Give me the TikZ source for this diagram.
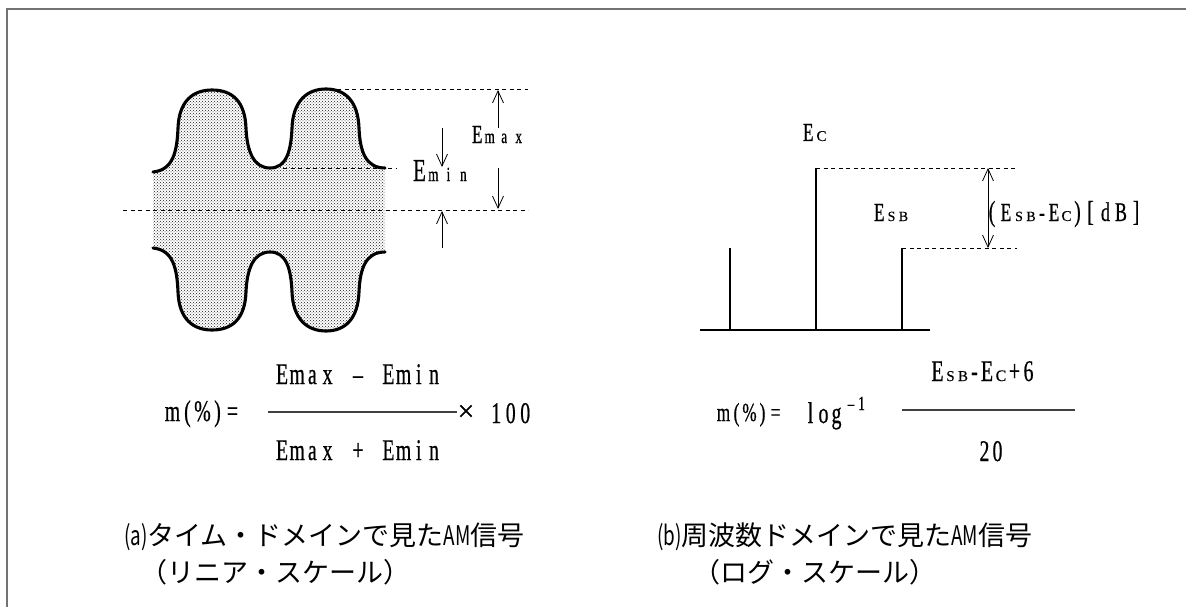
\documentclass[tikz,border=0pt]{standalone}
\usepackage{fontspec}
\usepackage{graphicx}
\usetikzlibrary{arrows.meta,patterns}
\newfontfamily\lat[FakeStretch=0.66,FakeBold=0.6]{Liberation Serif}
\newfontfamily\latn[FakeBold=0.4]{Liberation Serif}
\newfontfamily\jp{Noto Sans CJK JP}
\newcommand\bx[2]{\makebox[#1pt][c]{#2}}
\newcommand\fs[1]{\fontsize{#1}{#1}\selectfont}
\makeatletter
\newlength\monow
\newcommand\mono[2]{\setlength\monow{#1pt}\mono@#2\relax}
\def\mono@#1{\ifx\relax#1\else\makebox[\monow][c]{#1}\expandafter\mono@\fi}
\makeatother
\tikzset{
  env/.style={line width=3.1pt, line cap=round, line join=round},
  dl/.style={line width=0.9pt, dash pattern=on 4pt off 3.5pt},
  bar/.style={line width=2.8pt},
  arr/.style={line width=0.8pt, -{Straight Barb[length=12pt,width=11pt]}},
  darr/.style={line width=0.8pt, {Straight Barb[length=12pt,width=11pt]}-{Straight Barb[length=12pt,width=11pt]}},
  txt/.style={inner sep=0pt, outer sep=0pt, font=\lat\fs{30}},
  captxt/.style={inner sep=0pt, outer sep=0pt, font=\jp\fs{27}},
  frac/.style={line width=1.1pt, black!75},
  frm/.style={line width=1.3pt, black!55},
}
\begin{document}
\begin{tikzpicture}[x=1pt,y=-1pt]
\useasboundingbox (0,0) rectangle (1186,607);
% frame
\coordinate (f0) at (7,9); \coordinate (f1) at (1186,9); \coordinate (f2) at (7,607);
\draw[frm] (f2) -- (f0) -- (f1);

% ---------- (a) time domain ----------
\fill[pattern=crosshatch dots, pattern color=black!90]
 (153,172) .. controls (173,170) and (177,152) .. (178,128)
 .. controls (179,101) and (193,90) .. (212,90)
 .. controls (232,90) and (245,101) .. (246,128)
 .. controls (247,152) and (254,168) .. (270,168)
 .. controls (286,168) and (291,152) .. (292,128)
 .. controls (293,101) and (307,89) .. (326,89)
 .. controls (345,89) and (358,101) .. (359,128)
 .. controls (360,152) and (366,168) .. (385,168)
 -- (385,252)
 .. controls (366,252) and (360,268) .. (359,292)
 .. controls (358,319) and (345,331) .. (326,331)
 .. controls (307,331) and (293,319) .. (292,292)
 .. controls (291,268) and (286,252) .. (270,252)
 .. controls (254,252) and (247,268) .. (246,292)
 .. controls (245,319) and (232,330) .. (212,330)
 .. controls (193,330) and (179,319) .. (178,292)
 .. controls (177,268) and (173,250) .. (153,248) -- cycle;
\draw[env]
 (153,172) .. controls (173,170) and (177,152) .. (178,128)
 .. controls (179,101) and (193,90) .. (212,90)
 .. controls (232,90) and (245,101) .. (246,128)
 .. controls (247,152) and (254,168) .. (270,168)
 .. controls (286,168) and (291,152) .. (292,128)
 .. controls (293,101) and (307,89) .. (326,89)
 .. controls (345,89) and (358,101) .. (359,128)
 .. controls (360,152) and (366,168) .. (385,168);
\draw[env]
 (385,252) .. controls (366,252) and (360,268) .. (359,292)
 .. controls (358,319) and (345,331) .. (326,331)
 .. controls (307,331) and (293,319) .. (292,292)
 .. controls (291,268) and (286,252) .. (270,252)
 .. controls (254,252) and (247,268) .. (246,292)
 .. controls (245,319) and (232,330) .. (212,330)
 .. controls (193,330) and (179,319) .. (178,292)
 .. controls (177,268) and (173,250) .. (153,248);

% dashed reference lines
\coordinate (c0) at (123,210); \coordinate (c1) at (528,210);
\coordinate (t0) at (337,89);  \coordinate (t1) at (528,89);
\coordinate (m0) at (283,168); \coordinate (m1) at (397,168);
\draw[dl] (c0) -- (c1);
\draw[dl] (t0) -- (t1);
\draw[dl] (m0) -- (m1);

% arrows
\coordinate (ax1) at (498,128); \coordinate (ax2) at (498,90);
\coordinate (ax3) at (498,168); \coordinate (ax4) at (498,209);
\coordinate (an1) at (442,128); \coordinate (an2) at (442,167);
\coordinate (an3) at (442,248); \coordinate (an4) at (442,211);
\draw[arr] (ax1) -- (ax2);
\draw[arr] (ax3) -- (ax4);
\draw[arr] (an1) -- (an2);
\draw[arr] (an3) -- (an4);

\node[txt, anchor=base west] (emax) at (472,143) {\fs{26}E\fs{20}\mono{14.5}{max}};
\node[txt, anchor=base west] (emin) at (413,181) {\fs{32}E\fs{20}\mono{15}{min}};

% formula (a)
\node[txt, anchor=base west] (mL) at (165,421) {\mono{15}{m(\%)=}};
\node[txt, anchor=base] (numL) at (358,384) {\mono{15.2}{Emax~–~Emin}};
\node[txt, anchor=base] (denL) at (358,460) {\mono{15.2}{Emax~+~Emin}};
\coordinate (fl0) at (268,412); \coordinate (fl1) at (457,412);
\draw[frac] (fl0) -- (fl1);
\node[txt, font=\latn\fs{30}] (timesL) at (466,413) {×};
\node[txt, anchor=base west] (hundred) at (489,423) {\mono{14.5}{100}};

% captions (a)
\node[captxt, anchor=base west] (capA1) at (124,545) {\scalebox{0.7}[1]{(a)}タイム・ドメインで見た\scalebox{0.7}[1]{AM}信号};
\node[captxt, anchor=base west] (capA2) at (140,582) {（リニア・スケール）};

% ---------- (b) frequency domain ----------
\coordinate (b0) at (700,330); \coordinate (b1) at (930,330);
\coordinate (s1a) at (730,330); \coordinate (s1b) at (730,248);
\coordinate (s2a) at (816,330); \coordinate (s2b) at (816,168);
\coordinate (s3a) at (902,330); \coordinate (s3b) at (902,248);
\draw[bar] (b0) -- (b1);
\draw[bar] (s1a) -- (s1b);
\draw[bar] (s2a) -- (s2b);
\draw[bar] (s3a) -- (s3b);
\coordinate (d1) at (1017,168); \coordinate (d2) at (1017,248);
\draw[dl] (s2b) -- (d1);
\draw[dl] (s3b) -- (d2);
\coordinate (r1) at (988,168); \coordinate (r2) at (988,248);
\draw[darr] (r1) -- (r2);

\node[txt, anchor=base west] (ec) at (803,141) {\fs{26}E\kern3pt{\latn\fs{15}C}};
\node[txt, anchor=base west] (esb) at (874,221) {\fs{26}E\kern1pt{\latn\fs{14}\mono{12}{SB}}};
\node[txt, anchor=base west] (ratio) at (985,221) {\fs{29}\bx{14}{(}\fs{26}\bx{14}{E}{\latn\fs{14}\bx{12}{S}\bx{12}{B}}\bx{10}{-}\bx{14}{E}{\latn\fs{15}\bx{11}{C}}\fs{29}\bx{11}{)}\bx{15}{[}\fs{27}\bx{15}{d}\bx{16}{B}\fs{29}\bx{14}{]}};

% formula (b)
\node[txt, anchor=base west] (mR) at (717,421) {\fs{26}\mono{13}{m(\%)=}};
\node[txt, anchor=base west] (log) at (804,423) {\mono{13}{log}};
\node[txt, anchor=base west] (sup) at (846,410) {\fs{20}\bx{10}{–}\bx{11}{1}};
\coordinate (fr0) at (902,410); \coordinate (fr1) at (1075,410);
\draw[frac] (fr0) -- (fr1);
\node[txt, anchor=base west] (numR) at (931,381) {\bx{13}{E}{\latn\fs{15}\bx{13}{S}\bx{12}{B}}\bx{11}{-}\bx{14}{E}{\latn\fs{16}\bx{14}{C}}\bx{13}{+}\bx{15}{6}};
\node[txt, anchor=base] (denR) at (991,461) {\mono{13}{20}};

% captions (b)
\node[captxt, anchor=base west] (capB1) at (657,545) {\scalebox{0.7}[1]{(b)}周波数ドメインで見た\scalebox{0.7}[1]{AM}信号};
\node[captxt, anchor=base west] (capB2) at (693,582) {（ログ・スケール）};
\end{tikzpicture}
\end{document}
